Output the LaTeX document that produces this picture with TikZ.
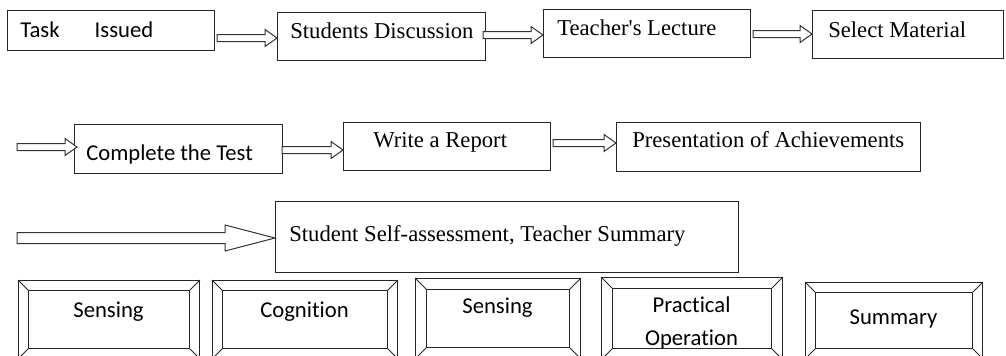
\documentclass[tikz,border=0pt]{standalone}
\usepackage{fontspec}
\setmainfont{Liberation Serif}
\newfontfamily\carlitofont[Ligatures={NoCommon}]{Carlito}
\usetikzlibrary{calc}
\tikzset{
  box/.style={draw=black!85, line width=0.8pt, inner sep=0pt},
  lbl/.style={inner sep=0pt, font=\fontsize{17}{20}\selectfont},
  slbl/.style={inner sep=0pt, font=\carlitofont\fontsize{17}{20}\selectfont},
  blk/.style={draw=black!80, line width=0.75pt, fill=white},
  bev/.style={draw=black!85, line width=0.7pt},
}
% block arrow: #1 start, #2 tip, #3 shaft half, #4 head half, #5 head length
\newcommand{\blockarr}[5]{%
  \draw[blk] let \p1=(#1), \p2=(#2) in
    (\x1,\y2+#3) -- (\x2-#5,\y2+#3) -- (\x2-#5,\y2+#4) -- (\x2,\y2)
    -- (\x2-#5,\y2-#4) -- (\x2-#5,\y2-#3) -- (\x1,\y2-#3) -- cycle;}
% bevel box: name, x1,y1 (outer top-left), x2,y2 (outer bottom-right), inset
\newcommand{\bevelbox}[6]{%
  \node[box, bev, minimum width={(#4-#2)*0.75pt}, minimum height={(#5-#3)*0.75pt}, anchor=north west] (#1) at (#2,#3) {};
  \draw[bev] ($(#1.north west)+(#6,#6)$) coordinate (#1a) rectangle ($(#1.south east)+(-#6,-#6)$) coordinate (#1b);
  \draw[bev] (#1.north west) -- (#1a);
  \draw[bev] (#1.south east) -- (#1b);
  \draw[bev] (#1.north east) -- (#1a -| #1b);
  \draw[bev] (#1.south west) -- (#1a |- #1b);}
\newcommand{\rbox}[5]{%
  \node[box, minimum width={(#4-#2)*0.75pt}, minimum height={(#5-#3)*0.75pt}, anchor=north west] (#1) at (#2,#3) {};}
\begin{document}
\begin{tikzpicture}[x=0.75pt, y=-0.75pt]
\useasboundingbox (0,0) rectangle (1006,355);
\clip (0,0) rectangle (1006,355);
% row 1
\rbox{ti}{7}{10}{214}{50}
\node[slbl, anchor=base west] (tit) at (20,37) {Task\hspace{1.55em}Issued};
\rbox{sd}{277}{12}{485}{60}
\node[lbl, anchor=base west] (sdt) at (290,38) {Students Discussion};
\rbox{tl}{543}{9}{750}{57}
\node[lbl, anchor=base west] (tlt) at (557,35) {Teacher\textquotesingle s Lecture};
\rbox{sm}{812}{10}{1003}{58}
\node[lbl, anchor=base west] (smt) at (828,37) {Select Material};
\coordinate (a1s) at (217,38);
\blockarr{a1s}{sd.west |- a1s}{3.5*0.75pt}{8.5*0.75pt}{12*0.75pt}
\coordinate (a2s) at (483,35);
\blockarr{a2s}{tl.west |- a2s}{3.5*0.75pt}{8.5*0.75pt}{12*0.75pt}
\coordinate (a3s) at (753,34);
\blockarr{a3s}{sm.west |- a3s}{3.5*0.75pt}{8.5*0.75pt}{12*0.75pt}
% row 2
\rbox{ct}{74}{124}{282}{173}
\node[slbl, anchor=base west] (ctt) at (86,160) {Complete the Test};
\rbox{wr}{343}{122}{550}{170}
\node[lbl, anchor=base west] (wrt) at (373,147) {Write a Report};
\rbox{pa}{616}{122}{920}{171}
\node[lbl, anchor=base west] (pat) at (632,147) {Presentation of Achievements};
\coordinate (b0s) at (17,147);
\coordinate (b0e) at (77,147);
\blockarr{b0s}{b0e}{3.5*0.75pt}{8.5*0.75pt}{12*0.75pt}
\coordinate (b1s) at (282,150);
\blockarr{b1s}{wr.west |- b1s}{3.5*0.75pt}{8.5*0.75pt}{12*0.75pt}
\coordinate (b2s) at (553,143);
\blockarr{b2s}{pa.west |- b2s}{3.5*0.75pt}{8.5*0.75pt}{12*0.75pt}
% row 3
\rbox{ss}{275}{201}{738}{272}
\node[lbl, anchor=base west] (sst) at (289,241) {Student Self-assessment, Teacher Summary};
\coordinate (c0s) at (17,238);
\blockarr{c0s}{ss.west |- c0s}{5.5*0.75pt}{13*0.75pt}{50*0.75pt}
% row 4
\bevelbox{s1}{18}{280}{199}{358}{10}
\node[slbl, anchor=base] (s1t) at (108.5,317) {Sensing};
\bevelbox{s2}{212}{280}{397}{358}{10}
\node[slbl, anchor=base] (s2t) at (304.5,317) {Cognition};
\bevelbox{s3}{415}{278}{580}{358}{11}
\node[slbl, anchor=base] (s3t) at (497.5,313) {Sensing};
\bevelbox{s4}{601}{277}{782}{359}{11}
\node[slbl, anchor=base] (s4t) at (691.5,312) {Practical};
\node[slbl, anchor=base] (s4u) at (691.5,345) {Operation};
\bevelbox{s5}{805}{282}{982}{358}{10}
\node[slbl, anchor=base] (s5t) at (893.5,324) {Summary};
\end{tikzpicture}
\end{document}
